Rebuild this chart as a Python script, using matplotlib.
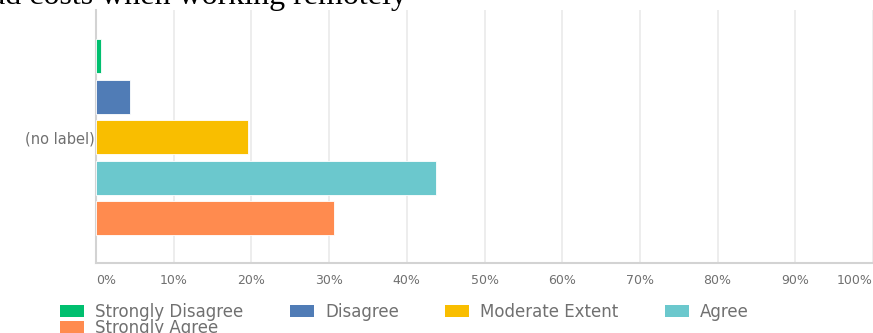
import matplotlib
matplotlib.use("Agg")
import matplotlib.pyplot as plt
from matplotlib.patches import Patch

# survey answers, one question ("(no label)")
answers = ["Strongly Disagree", "Disagree", "Moderate Extent", "Agree", "Strongly Agree"]
percent = [0.7, 4.4, 19.5, 43.8, 30.6]
colors = ["#00BF6F", "#507CB6", "#F9BE00", "#6BC8CD", "#FF8B4F"]
ticks = [0, 10, 20, 30, 40, 50, 60, 70, 80, 90, 100]
tick_labels = [str(t) + "%" for t in ticks]
title = "ad costs when working remotely"

W, H = 873, 333
fig = plt.figure(figsize=(W / 100, H / 100), dpi=100)
ax = fig.add_axes([96 / W, 1 - 263 / H, 1 - 96 / W, (263 - 10) / H])

ypos = list(range(len(answers)))
ax.barh(ypos, percent, height=0.84, color=colors, edgecolor="white", linewidth=0.6, zorder=3)

ax.set_xlim(0, 100)
ax.set_ylim(len(answers) - 1 + 1.11, -1.136)
ax.set_xticks(ticks)
ax.set_xticklabels(tick_labels)
ax.set_yticks([2])
ax.set_yticklabels(["(no label)"])
ax.tick_params(axis="both", length=0, colors="#707070")
ax.tick_params(axis="x", pad=8, labelsize=9)
ax.tick_params(axis="y", pad=1, labelsize=10.5)
xl = ax.get_xticklabels()
xl[0].set_ha("left")
xl[-1].set_ha("right")
ax.grid(axis="x", color="#ececec", linewidth=1.3, zorder=0)
for s in ["top", "right"]:
    ax.spines[s].set_visible(False)
for s in ["left", "bottom"]:
    ax.spines[s].set_color("#d3d3d3")
    ax.spines[s].set_linewidth(1.5)

fig.text(-9 / W, 1 - 4 / H, title, family="Liberation Serif", fontsize=23,
         va="baseline", ha="left", color="black")

# legend, row-major order for 4 columns
handles = [Patch(facecolor=c, edgecolor="none") for c in colors]
order = [0, 4, 1, 2, 3]
fig.legend([handles[i] for i in order], [answers[i] for i in order],
           loc="upper left", bbox_to_anchor=(60 / W, 1 - 303 / H), ncol=4, frameon=False,
           fontsize=12, labelcolor="#707070", handlelength=1.44, handleheight=0.78,
           handletextpad=0.66, columnspacing=2.8, labelspacing=-0.1, borderpad=0, borderaxespad=0)

fig.savefig("out.png", dpi=100)
